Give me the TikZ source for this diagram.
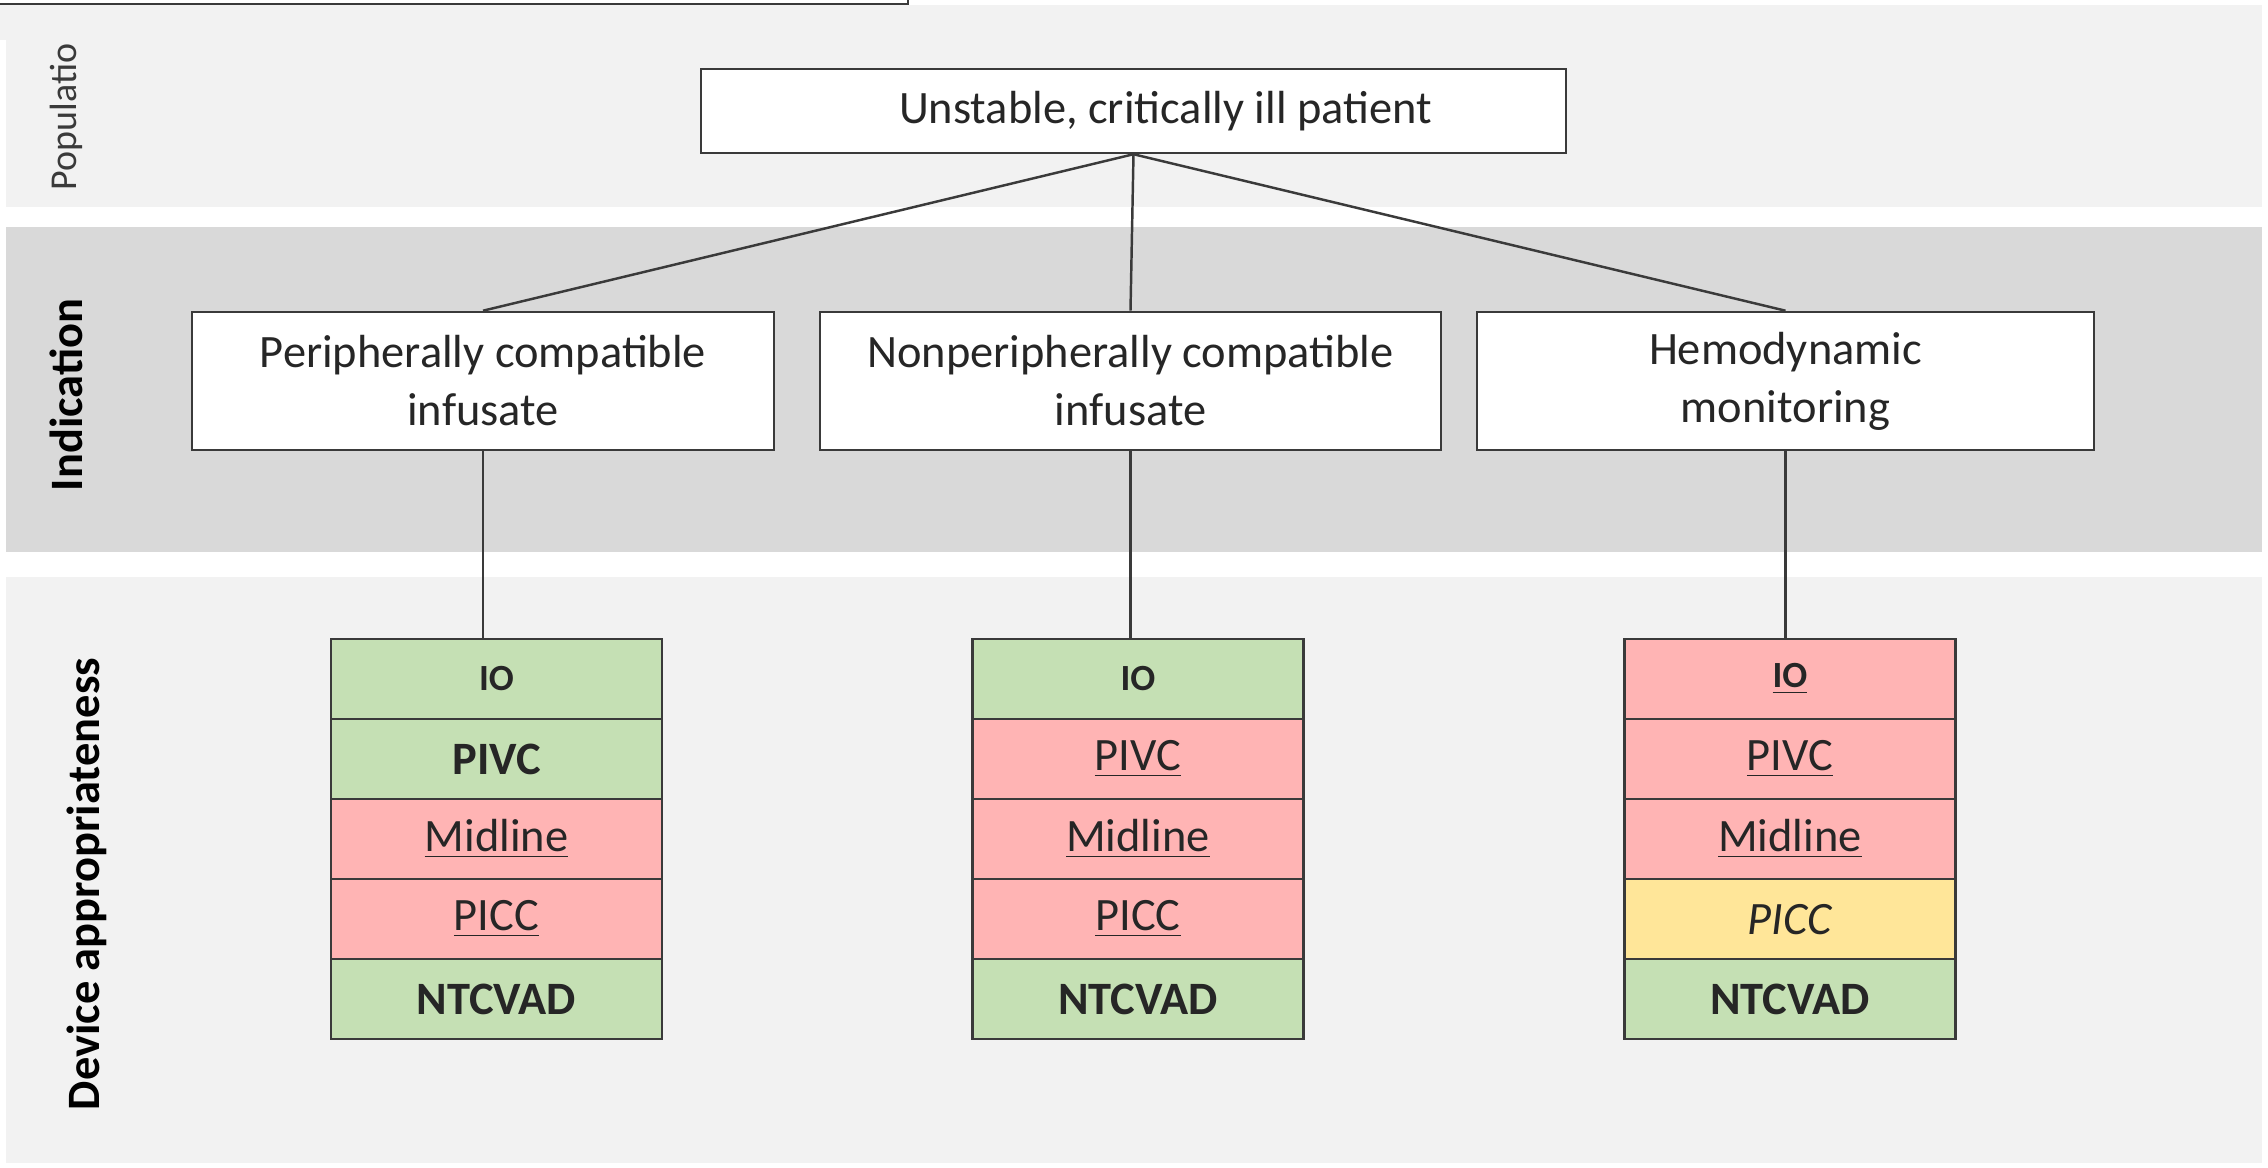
\documentclass[tikz,border=0pt]{standalone}
\usepackage{fontspec}
\setmainfont{Carlito}
\usetikzlibrary{positioning}
\definecolor{bandlight}{HTML}{F2F2F2}
\definecolor{bandmid}{HTML}{D9D9D9}
\definecolor{cellgreen}{HTML}{C5E0B4}
\definecolor{cellred}{HTML}{FFB4B4}
\definecolor{cellyellow}{HTML}{FFE699}
\definecolor{boxline}{HTML}{3A3A3A}
\definecolor{textdark}{HTML}{262626}
\newcommand{\maintext}{\fontsize{13.2}{16.5}\selectfont}
\begin{document}
\begin{tikzpicture}[x=0.01cm,y=-0.01cm,
    box/.style={draw=boxline,line width=0.7pt,fill=white,text=textdark,align=center,inner sep=0pt,font=\maintext},
    cell/.style={draw=boxline,line width=0.7pt,minimum width=3.31cm,minimum height=0.8cm,inner sep=0pt,outer sep=0pt,text=textdark,font=\maintext},
    okcell/.style={cell,fill=cellgreen,font=\maintext\bfseries},
    badcell/.style={cell,fill=cellred},
    maybecell/.style={cell,fill=cellyellow,font=\maintext\itshape},
    iotext/.style={font=\fontsize{10.5}{12}\selectfont\bfseries},
    bandlabel/.style={rotate=90,anchor=base,font=\maintext\bfseries}]
    \useasboundingbox (0,0) rectangle (2268,1168);
    % background bands
    \fill[white] (0,0) rectangle (2268,1168);
    \fill[bandlight] (0,5) rectangle (2262,40);
    \fill[bandlight] (6,40) rectangle (2262,207);
    \fill[bandmid] (6,227) rectangle (2262,552);
    \fill[bandlight] (6,577) rectangle (2262,1163);
    \draw[boxline,line width=0.8pt] (-10,-20) rectangle (908,4);
    \node[bandlabel,font=\fontsize{10.8}{12}\selectfont,text=boxline] (poplabel) at (76,117) {Populatio};
    \node[bandlabel] (indlabel) at (82,395) {Indication};
    \node[bandlabel] (devlabel) at (100,884) {Device appropriateness};
    % population and indications
    \node[box,minimum width=8.65cm,minimum height=0.84cm] (patient) at (1133.5,111) {\hspace*{0.64cm}Unstable, critically ill patient};
    \node[box,minimum width=5.82cm,minimum height=1.38cm] (periph) at (483,381) {Peripherally compatible\\infusate};
    \node[box,minimum width=6.21cm,minimum height=1.38cm] (nonperiph) at (1130.5,381) {Nonperipherally compatible\\infusate};
    \node[box,minimum width=6.17cm,minimum height=1.38cm] (hemo) at (1785.5,381) {Hemodynamic\\monitoring};
    % devices, peripheral infusate
    \node[okcell,iotext] (ioA) at (496.5,679) {IO};
    \node[okcell,below=0pt of ioA] (pivcA) {PIVC};
    \node[badcell,below=0pt of pivcA] (midA) {\underline{Midline}};
    \node[badcell,below=0pt of midA] (piccA) {\underline{PICC}};
    \node[okcell,below=0pt of piccA] (ntcA) {NTCVAD};
    % devices, nonperipheral infusate
    \node[okcell,iotext] (ioB) at (1138,679) {IO};
    \node[badcell,below=0pt of ioB] (pivcB) {\underline{PIVC}};
    \node[badcell,below=0pt of pivcB] (midB) {\underline{Midline}};
    \node[badcell,below=0pt of midB] (piccB) {\underline{PICC}};
    \node[okcell,below=0pt of piccB] (ntcB) {NTCVAD};
    % devices, hemodynamic monitoring
    \node[badcell,iotext] (ioC) at (1790,679) {\underline{IO}};
    \node[badcell,below=0pt of ioC] (pivcC) {\underline{PIVC}};
    \node[badcell,below=0pt of pivcC] (midC) {\underline{Midline}};
    \node[maybecell,below=0pt of midC] (piccC) {PICC};
    \node[okcell,below=0pt of piccC] (ntcC) {NTCVAD};
    % connectors
    \draw[boxline,line width=0.7pt] (patient.south) -- (periph.north);
    \draw[boxline,line width=0.7pt] (patient.south) -- (nonperiph.north);
    \draw[boxline,line width=0.7pt] (patient.south) -- (hemo.north);
    \draw[boxline,line width=0.7pt] (periph.south) -- (periph.south |- ioA.north);
    \draw[boxline,line width=0.7pt] (nonperiph.south) -- (nonperiph.south |- ioB.north);
    \draw[boxline,line width=0.7pt] (hemo.south) -- (hemo.south |- ioC.north);
\end{tikzpicture}
\end{document}
